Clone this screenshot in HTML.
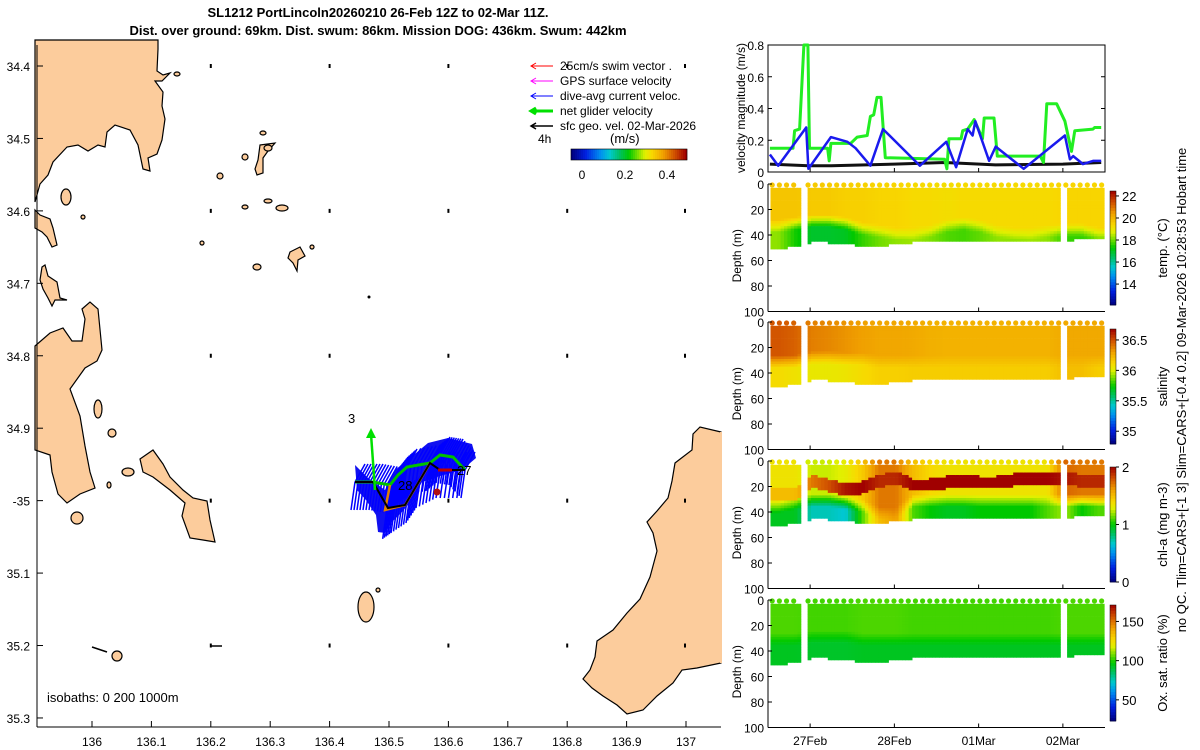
<!DOCTYPE html>
<html><head><meta charset="utf-8"><title>SL1212 PortLincoln glider summary</title>
<style>
html,body{margin:0;padding:0;background:#fff;}
svg{display:block;font-family:"Liberation Sans",sans-serif;}
</style></head>
<body>
<svg id="root" width="1200" height="750" viewBox="0 0 1200 750" xmlns="http://www.w3.org/2000/svg">
<g font-size="13" font-weight="bold" text-anchor="middle" fill="#000">
<text x="378" y="17">SL1212 PortLincoln20260210 26-Feb 12Z to 02-Mar 11Z.</text>
<text x="378" y="35">Dist. over ground: 69km. Dist. swum: 86km. Mission DOG: 436km. Swum: 442km</text>
</g>
<g id="map"></g>
<g id="vel"></g>
<g id="depth"></g>
<text x="1186" y="390" font-size="13" text-anchor="middle" transform="rotate(-90 1186 390)">no QC. Tlim=CARS+[-1 3] Slim=CARS+[-0.4 0.2] 09-Mar-2026 10:28:53 Hobart time</text>
</svg>
<script>
const NS="http://www.w3.org/2000/svg";
function mk(parent,tag,attrs,text){const e=document.createElementNS(NS,tag);for(const k in attrs)e.setAttribute(k,attrs[k]);if(text!==undefined)e.textContent=text;parent.appendChild(e);return e;}
const CM=[[0,0,0,127],[0.12,0,32,224],[0.25,0,144,240],[0.33,0,200,208],[0.42,0,192,96],[0.5,0,200,0],[0.58,128,224,0],[0.64,224,240,0],[0.7,248,216,0],[0.8,240,160,0],[0.9,208,80,0],[1,160,0,0]];
function jet(v){v=Math.max(0,Math.min(1,v));for(let i=1;i<CM.length;i++){if(v<=CM[i][0]){const a=CM[i-1],b=CM[i],f=(v-a[0])/(b[0]-a[0]);return `rgb(${Math.round(a[1]+(b[1]-a[1])*f)},${Math.round(a[2]+(b[2]-a[2])*f)},${Math.round(a[3]+(b[3]-a[3])*f)})`;}}return "rgb(160,0,0)";}

/* ---------- MAP ---------- */
const mapLonTicks=[136,136.1,136.2,136.3,136.4,136.5,136.6,136.7,136.8,136.9,137];
const mapLatTicks=[34.4,34.5,34.6,34.7,34.8,34.9,35.0,35.1,35.2,35.3];
const mapLatLabels=["34.4","34.5","34.6","34.7","34.8","34.9","-35","35.1","35.2","35.3"];
const lonX=lon=>92+(lon-136)*594;
const latY=lat=>66+(lat-34.4)*724.4;
const map=document.getElementById('map');
const LAND="#fccc9c";
const landPolys=[
"35,40 158,40 158,49 157,71 163,75 170,73 162,81 155,81 163,92 162,106 165,119 162,140 157,154 148,158 150,171 143,169 138,145 130,130 115,125 107,132 105,147 98,145 88,151 78,145 67,147 53,162 48,175 40,184 35,202",
"35,210 40,215 50,219 53,228 57,245 52,247 47,237 42,232 35,228",
"42,267 45,265 48,276 57,282 60,298 67,300 55,300 52,306 48,298 43,289 40,280",
"35,346 50,333 63,328 72,341 82,341 85,319 82,309 90,302 98,309 102,350 97,361 85,368 70,389 80,416 85,446 90,472 95,488 80,494 67,503 58,494 52,472 50,455 35,450",
"140,459 153,450 163,464 170,477 183,490 193,498 207,501 210,520 215,542 203,540 190,538 182,516 185,503 170,490 153,477 143,472",
"260,145 275,143 268,151 263,158 263,173 257,175 255,169 258,160",
"290,252 300,247 305,256 298,260 297,271 293,263 288,258",
"721,432 700,427 693,434 692,450 675,463 672,481 668,498 657,511 647,522 653,533 657,551 650,577 640,599 627,613 613,630 597,641 595,657 590,670 583,679 592,688 603,696 617,705 627,714 643,710 657,696 673,683 682,670 697,668 721,663"
];
landPolys.forEach((p,i)=>{const e=mk(map,'polygon',{points:p,fill:LAND,stroke:"#000","stroke-width":1.2});

});
mk(map,'line',{x1:721,y1:432,x2:721,y2:663,stroke:LAND,"stroke-width":2});
const islets=[[66,197,5,8],[98,409,4,9],[112,433,4,4],[128,472,6,4],[77,518,6,6],[117,656,5,5],[220,176,3,3],[202,243,2,2],[245,157,3,3],[282,208,6,3],[268,201,4,2],[245,207,3,2],[257,267,4,3],[177,74,3,2],[263,133,3,2],[312,247,2,2],[109,485,2,3],[83,217,2,2],[366,607,8,15],[378,590,2,2],[268,148,4,3]];
islets.forEach((s,i)=>{const e=mk(map,'ellipse',{cx:s[0],cy:s[1],rx:s[2],ry:s[3],fill:LAND,stroke:"#000","stroke-width":1.2});

});
const gridLons=[136.2,136.4,136.6,136.8,137.0];
const gridLats=[34.4,34.6,34.8,35.0,35.2];
gridLons.forEach(lo=>gridLats.forEach(la=>{const x=lonX(lo)+(lo==137?-1:0),y=latY(la);
const e=mk(map,'line',{x1:x,y1:y+2,x2:x,y2:y-2,stroke:"#000","stroke-width":2});

}));
mk(map,'line',{x1:92,y1:647,x2:107,y2:652,stroke:"#000","stroke-width":1.5});
mk(map,'line',{x1:210,y1:646,x2:222,y2:646,stroke:"#000","stroke-width":1.5});
mk(map,'circle',{cx:369,cy:297,r:1.5,fill:"#000"});
const trackPts=[[355,482],[373,482],[390,485],[398,475],[407,467],[430,463],[440,455],[453,457],[465,470],[440,470],[420,480],[410,495],[395,505],[385,512]];
const gtrack=mk(map,'g',{});


mk(gtrack,'polygon',{points:"355,465 368,478 385,490 395,470 410,458 428,443 448,438 472,444 476,458 462,470 440,476 422,482 412,500 402,512 392,522 385,533 378,532 376,515 366,500 357,490",fill:"#1010f0"});
for(let i=0;i<trackPts.length-1;i++){const [x0,y0]=trackPts[i],[x1,y1]=trackPts[i+1];
for(let k=0;k<6;k++){const x=x0+(x1-x0)*k/6,y=y0+(y1-y0)*k/6;
mk(gtrack,'line',{x1:x,y1:y,x2:x+10,y2:y-18,stroke:"#0000ff","stroke-width":1.5});
mk(gtrack,'line',{x1:x,y1:y,x2:x-4,y2:y+28,stroke:"#0000ff","stroke-width":1.5});}}
mk(gtrack,'polyline',{points:"355,482 373,482 390,485 398,475 407,467 430,463 440,455 453,457 465,470",fill:"none",stroke:"#00c000","stroke-width":3});
mk(gtrack,'polyline',{points:"390,485 385,510 405,505 420,480 430,463",fill:"none",stroke:"#e08000","stroke-width":2.5});
mk(gtrack,'polyline',{points:"355,482 373,482 388,508 405,505 430,463 440,470 465,470 440,470",fill:"none",stroke:"#000","stroke-width":2});
mk(gtrack,'line',{x1:375,y1:490,x2:371,y2:434,stroke:"#00e000","stroke-width":2.5});
mk(gtrack,'polygon',{points:"366,438 371,428 376,438",fill:"#00e000"});
mk(gtrack,'circle',{cx:437,cy:492,r:3.5,fill:"#b01010"});
mk(gtrack,'line',{x1:438,y1:470,x2:452,y2:470,stroke:"#c00000","stroke-width":3});
mk(map,'text',{x:348,y:423,"font-size":13},"3");
mk(map,'text',{x:398,y:490,"font-size":13},"28");
mk(map,'text',{x:457,y:475,"font-size":13},"27");
const legItems=[["25cm/s swim vector .","#ff0000",1],["GPS surface velocity","#ff00ff",1],["dive-avg current veloc.","#0000ff",1],["net glider velocity","#00e000",3],["sfc geo. vel. 02-Mar-2026","#000",1.5]];
legItems.forEach((it,i)=>{const y=62+i*15;const g=mk(map,'g',{});


mk(g,'line',{x1:531,y1:y+4,x2:553,y2:y+4,stroke:it[1],"stroke-width":it[2]});
mk(g,'polyline',{points:`536,${y+1} 531,${y+4} 536,${y+7}`,fill:"none",stroke:it[1],"stroke-width":it[2]});
mk(g,'text',{x:560,y:y+8,"font-size":12},it[0]);});
mk(map,'text',{x:538,y:143,"font-size":12},"4h");
mk(map,'text',{x:610,y:143,"font-size":13},"(m/s)");
const mcb=mk(map,'g',{});


for(let i=0;i<58;i++)mk(mcb,'rect',{x:571+i*2,y:149,width:2.2,height:11,fill:jet(i/57)});
mk(mcb,'rect',{x:571,y:149,width:116,height:11,fill:"none",stroke:"#000","stroke-width":0.6});
[["0",582],["0.2",625],["0.4",667]].forEach(t=>mk(mcb,'text',{x:t[1],y:179,"font-size":12,"text-anchor":"middle"},t[0]));
mk(map,'text',{x:47,y:702,"font-size":13},"isobaths: 0   200  1000m");
mk(map,'line',{x1:37,y1:45,x2:37,y2:727,stroke:"#000","stroke-width":1});
mk(map,'line',{x1:37,y1:727,x2:721,y2:727,stroke:"#000","stroke-width":1});
mapLonTicks.forEach(l=>{const x=lonX(l);mk(map,'line',{x1:x,y1:727,x2:x,y2:721,stroke:"#000"});
const t=mk(map,'text',{x:x,y:746,"font-size":12,"text-anchor":"middle"},String(l));

});
mapLatTicks.forEach((l,i)=>{const y=latY(l);mk(map,'line',{x1:37,y1:y,x2:43,y2:y,stroke:"#000"});
const t=mk(map,'text',{x:30,y:y+5,"font-size":12,"text-anchor":"end"},mapLatLabels[i]);

});

/* ---------- TIME AXIS (days since 27 Feb 00Z) ---------- */
const X0=768,X1=1105,T0=-0.5,T1=3.5;
const tx=t=>X0+(t-T0)/(T1-T0)*(X1-X0);
const timeTicks=[0,1,2,3];
const timeTickLabels=["27Feb","28Feb","01Mar","02Mar"];

/* ---------- VELOCITY PANEL ---------- */
const greenT=[-0.477,-0.203,-0.184,-0.125,-0.074,-0.027,-0.008,0.207,0.227,0.246,0.481,0.559,0.677,0.716,0.755,0.794,0.841,0.892,1.596,1.624,1.647,1.792,1.811,1.870,1.948,2.046,2.066,2.183,2.222,2.731,2.770,2.809,2.926,3.024,3.102,3.142,3.357,3.376,3.455];
const greenV=[0.15,0.15,0.26,0.27,0.8,0.8,0.15,0.15,0.07,0.18,0.18,0.22,0.23,0.35,0.36,0.47,0.47,0.09,0.08,0.02,0.21,0.21,0.26,0.27,0.33,0.21,0.34,0.34,0.10,0.10,0.06,0.43,0.43,0.32,0.13,0.26,0.27,0.28,0.28];
const blueT=[-0.477,-0.379,-0.047,-0.020,0.246,0.442,0.540,0.716,0.865,1.303,1.616,1.733,1.870,1.929,1.960,2.124,2.203,2.535,3.024,3.083,3.122,3.239,3.357,3.455];
const blueV=[0.11,0.04,0.28,0.02,0.22,0.19,0.15,0.04,0.27,0.04,0.19,0.03,0.27,0.23,0.32,0.07,0.16,0.02,0.23,0.08,0.10,0.05,0.07,0.07];
const blackT=[-0.477,-0.02,0.25,1.0,1.6,2.2,3.0,3.455];
const blackV=[0.05,0.04,0.04,0.05,0.06,0.045,0.05,0.06];
const velTicks=[0,0.2,0.4,0.6,0.8];
const VY0=172,VY1=45;
const vy=v=>VY0+(v/0.8)*(VY1-VY0);
const vel=document.getElementById('vel');
mk(vel,'rect',{x:X0,y:VY1,width:X1-X0,height:VY0-VY1,fill:"#fff",stroke:"#000","stroke-width":1});
velTicks.forEach(v=>{mk(vel,'line',{x1:X0,y1:vy(v),x2:X0+4,y2:vy(v),stroke:"#000"});mk(vel,'line',{x1:X1,y1:vy(v),x2:X1-4,y2:vy(v),stroke:"#000"});
const t=mk(vel,'text',{x:X0-4,y:vy(v)+5,"font-size":12,"text-anchor":"end"},String(v));

});
timeTicks.forEach(t=>mk(vel,'line',{x1:tx(t),y1:VY0,x2:tx(t),y2:VY0-4,stroke:"#000"}));
mk(vel,'text',{x:745,y:108,"font-size":12,"text-anchor":"middle",transform:"rotate(-90 745 108)"},"velocity magnitude (m/s)");
function series(T,V,col,w,name){const pts=T.map((t,i)=>`${tx(t).toFixed(1)},${vy(V[i]).toFixed(1)}`).join(' ');
const e=mk(vel,'polyline',{points:pts,fill:"none",stroke:col,"stroke-width":w,"stroke-linejoin":"round"});

}
series(blackT,blackV,"#111",3,'line-sfc-geo-velocity');
series(greenT,greenV,"#22ee22",3,'line-net-glider-velocity');
series(blueT,blueV,"#1a1aee",2.5,'line-dive-avg-current');

/* ---------- DEPTH PANELS ---------- */
const anchorT=[-0.4,-0.2,0,0.2,0.4,0.6,0.8,1.0,1.2,1.4,1.6,1.8,2.0,2.2,2.4,2.6,2.8,3.0,3.2,3.4];
const maxDepth=[50,48,45,45,46,48,48,46,45,45,45,45,45,45,45,44,45,44,42,42];
const gapStart=[-0.12,2.96];
const gapEnd=[-0.07,3.03];
const tempTop=[19.7,19.7,19.6,19.6,19.5,19.5,19.4,19.4,19.3,19.3,19.2,19.3,19.3,19.3,19.3,19.3,19.3,19.4,19.4,19.4];
const tempBot=[18.2,17.4,16.9,16.9,17.0,17.6,18.0,18.2,18.3,18.1,17.8,17.7,17.9,18.2,18.2,18.3,18.2,17.6,17.6,17.9];
const tempInt=[32,30,28,28,30,34,36,38,38,36,32,30,32,36,38,38,36,35,35,38];
const salTop=[36.48,36.45,36.38,36.36,36.33,36.3,36.28,36.28,36.27,36.25,36.24,36.24,36.24,36.24,36.24,36.24,36.24,36.27,36.27,36.27];
const salBot=[36.1,36.07,36.04,36.04,36.06,36.1,36.14,36.14,36.15,36.15,36.15,36.15,36.15,36.15,36.15,36.15,36.15,36.2,36.2,36.15];
const salInt=[30,30,27,27,28,28,30,30,30,30,30,30,30,30,30,30,30,30,30,30];
const chlTop=[1.35,1.35,1.25,1.25,1.3,1.45,1.7,1.7,1.5,1.4,1.35,1.35,1.35,1.35,1.35,1.35,1.35,1.75,1.7,1.7];
const chlBand=[1.5,1.5,1.7,1.8,1.95,2,1.9,1.9,2,2,2,2,2,2,2,2,2,1.95,1.9,1.9];
const chlBandDepth=[25,25,15,18,22,20,15,12,18,18,16,14,16,16,14,12,14,12,15,15];
const chlBot=[0.95,0.95,0.7,0.7,0.65,1.1,1.5,1.6,1.1,1.0,0.95,0.95,1.0,1.0,1.0,1.0,1.1,1.2,1.0,1.1];
const chlInt=[35,32,30,30,32,34,40,40,30,30,30,30,30,30,30,30,30,30,30,30];
const oxTop=[104,104,103,103,103,104,104,104,103,103,103,103,103,103,103,103,103,104,104,104];
const oxBot=[93,93,92,92,92,93,93,93,93,93,93,93,93,93,93,93,93,93,93,93];
const oxInt=[30,30,28,28,28,30,30,30,30,30,30,30,30,30,30,30,30,30,30,30];
const depthTicks=[0,20,40,60,80,100];
const panels=[
 {name:"temperature",top:184,cb:[191,305],vmin:12.1,vmax:22.45,ticks:[14,16,18,20,22],tl:["14","16","18","20","22"],label:"temp. (°C)",
  top_:tempTop,bot:tempBot,int:tempInt},
 {name:"salinity",top:322,cb:[329,444],vmin:34.79,vmax:36.68,ticks:[35,35.5,36,36.5],tl:["35","35.5","36","36.5"],label:"salinity",
  top_:salTop,bot:salBot,int:salInt},
 {name:"chlorophyll",top:461,cb:[467,582],vmin:0,vmax:2,ticks:[0,1,2],tl:["0","1","2"],label:"chl-a (mg m-3)",
  top_:chlTop,bot:chlBot,int:chlInt,band:chlBand,bandD:chlBandDepth},
 {name:"oxygen",top:600,cb:[605,721],vmin:23,vmax:171,ticks:[50,100,150],tl:["50","100","150"],label:"Ox. sat. ratio (%)",
  top_:oxTop,bot:oxBot,int:oxInt}
];
const PH=127.5;
const depthRoot=document.getElementById('depth');
function interp(arr,t){let f=(t-anchorT[0])/0.2;f=Math.max(0,Math.min(anchorT.length-1,f));const i=Math.floor(f),j=Math.min(i+1,anchorT.length-1),w=f-i;return arr[i]*(1-w)+arr[j]*w;}
function inGap(t){for(let i=0;i<gapStart.length;i++)if(t>=gapStart[i]&&t<=gapEnd[i])return true;return t<-0.47||t>3.46;}
panels.forEach(p=>{
 const g=mk(depthRoot,'g',{});
 
 
 const dy=d=>p.top+d/100*PH;
 const cval=v=>jet((v-p.vmin)/(p.vmax-p.vmin));
 const step=0.04;
 for(let t=-0.47;t<3.47;t+=step){
  if(inGap(t))continue;
  const x=tx(t),w=tx(t+step)-x+0.4;
  const md=interp(maxDepth,t),it=interp(p.int,t);
  const a=interp(p.top_,t),b=interp(p.bot,t);
  for(let d=3;d<md;d+=2){
   let v;
   if(d<it-5)v=a;else if(d>it+5)v=b;else{const f=(d-(it-5))/10;v=a*(1-f)+b*f;}
   if(p.band){const bd=interp(p.bandD,t);if(Math.abs(d-bd)<5)v=interp(p.band,t);}
   mk(g,'rect',{x:x.toFixed(1),y:dy(d).toFixed(1),width:w.toFixed(1),height:2.9,fill:cval(v)});
  }
 }
 for(let t=-0.45;t<3.46;t+=0.085){if(inGap(t))continue;
  mk(g,'circle',{cx:tx(t),cy:p.top+1,r:2.6,fill:cval(interp(p.top_,t))});}
 mk(g,'line',{x1:X0,y1:p.top,x2:X0,y2:p.top+PH,stroke:"#000"});
 mk(g,'line',{x1:X0,y1:p.top+PH,x2:X1,y2:p.top+PH,stroke:"#000"});
 depthTicks.forEach(d=>{mk(g,'line',{x1:X0,y1:dy(d),x2:X0+4,y2:dy(d),stroke:"#000"});
  const t=mk(g,'text',{x:X0-4,y:dy(d)+5,"font-size":12,"text-anchor":"end"},String(d));
  
  });
 timeTicks.forEach(t=>mk(g,'line',{x1:tx(t),y1:p.top+PH,x2:tx(t),y2:p.top+PH-4,stroke:"#000"}));
 const cy=p.top+PH/2+8;
 mk(g,'text',{x:741,y:cy,"font-size":12,"text-anchor":"middle",transform:`rotate(-90 741 ${cy})`},"Depth (m)");
 const cb=mk(g,'g',{});
 
 
 const [c0,c1]=p.cb,n=40,h=(c1-c0)/n;
 for(let i=0;i<n;i++)mk(cb,'rect',{x:1110,y:c0+i*h,width:6,height:h+0.4,fill:jet(1-(i+0.5)/n)});
 mk(cb,'rect',{x:1110,y:c0,width:6,height:c1-c0,fill:"none",stroke:"#000","stroke-width":0.5});
 const cyv=v=>c1-(v-p.vmin)/(p.vmax-p.vmin)*(c1-c0);
 p.ticks.forEach((v,i)=>{mk(cb,'line',{x1:1116,y1:cyv(v),x2:1119,y2:cyv(v),stroke:"#000"});
  mk(cb,'text',{x:1122,y:cyv(v)+5,"font-size":13},p.tl[i]);});
 const ly=(c0+c1)/2;
 const lt=mk(cb,'text',{x:1167,y:ly,"font-size":13,"text-anchor":"middle",transform:`rotate(-90 1167 ${ly})`},p.label);
 
 
});
timeTicks.forEach((t,i)=>{const e=mk(depthRoot,'text',{x:tx(t),y:745,"font-size":12,"text-anchor":"middle"},timeTickLabels[i]);

});
</script>
</body></html>
